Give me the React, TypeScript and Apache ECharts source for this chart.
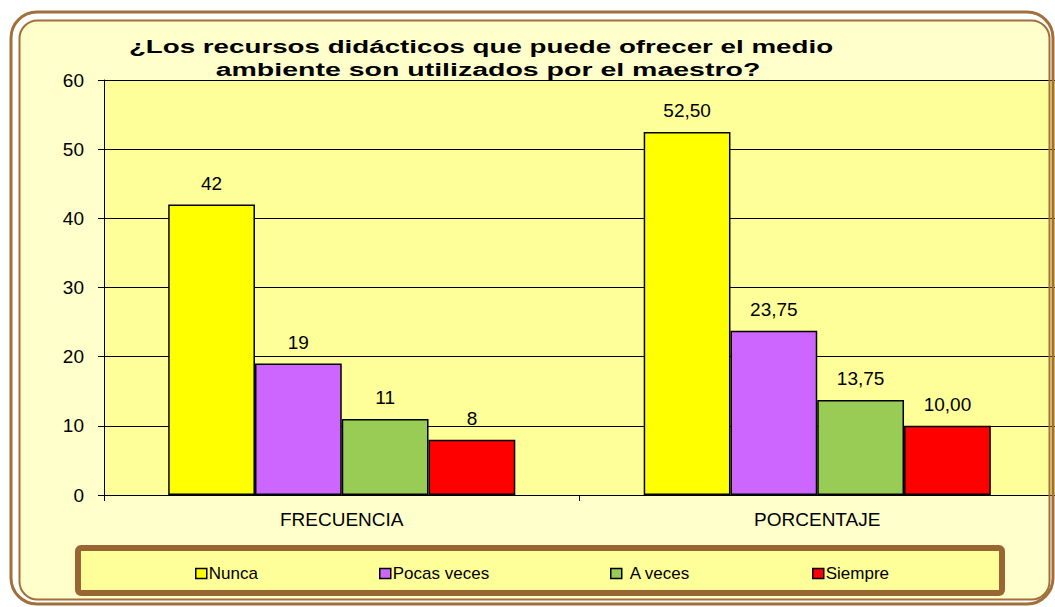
import React, { useEffect, useRef } from "react";
import * as echarts from "echarts";

const titleLines = [
  "¿Los recursos didácticos que puede ofrecer el medio",
  "ambiente son utilizados por el maestro?",
];
const categories = ["FRECUENCIA", "PORCENTAJE"];
const seriesNames = ["Nunca", "Pocas veces", "A veces", "Siempre"];
const nunca = [42, 52.5];
const pocasVeces = [19, 23.75];
const aVeces = [11, 13.75];
const siempre = [8, 10];
const yTicks = { min: 0, max: 60, interval: 10 };
const colors = ["#FFFF00", "#CC66FF", "#99CC55", "#FF0000"];
const legendLefts = [190, 374, 605, 807];
const legendPads = [-3, -3, 3, -3];

export default function App() {
  const ref = useRef<HTMLDivElement>(null);
  useEffect(() => {
    if (!ref.current) return;
    const chart = echarts.init(ref.current, undefined, { renderer: "svg" });
    const values = [nunca, pocasVeces, aVeces, siempre];
    const font = "Arial, 'Liberation Sans', sans-serif";
    chart.setOption({
      animation: false,
      textStyle: { fontFamily: font },
      grid: {
        left: 104,
        top: 80,
        right: 0,
        bottom: 112,
        show: true,
        backgroundColor: "#FFFF99",
        borderWidth: 0,
      },
      xAxis: {
        type: "category",
        data: categories,
        axisLine: { lineStyle: { color: "#000", width: 1 } },
        axisTick: { show: true, length: 6, lineStyle: { color: "#000" } },
        axisLabel: { color: "#000", fontSize: 19, margin: 15, fontFamily: font },
      },
      yAxis: {
        type: "value",
        min: yTicks.min,
        max: yTicks.max,
        interval: yTicks.interval,
        axisLine: { show: true, lineStyle: { color: "#000", width: 1 } },
        axisTick: { show: true, length: 6, lineStyle: { color: "#000" } },
        axisLabel: { color: "#000", fontSize: 19, margin: 20, fontFamily: font },
        splitLine: { show: true, lineStyle: { color: "#000", width: 1 } },
      },
      legend: seriesNames.map((n, i) => ({
        data: [n],
        left: legendLefts[i],
        top: 560,
        itemWidth: 11,
        itemHeight: 10,
        itemGap: 0,
        icon: "rect",
        textStyle: {
          color: "#000",
          fontSize: 17,
          fontFamily: font,
          padding: [0, 0, 0, legendPads[i]],
        },
        itemStyle: { borderColor: "#000", borderWidth: 1.5 },
      })),
      series: seriesNames.map((n, i) => ({
        type: "bar",
        name: n,
        data: values[i],
        barGap: "0%",
        barCategoryGap: "27%",
        itemStyle: { color: colors[i], borderColor: "#000", borderWidth: 1.5 },
        label: {
          show: true,
          position: "top",
          distance: 12,
          color: "#000",
          fontSize: 19,
          fontFamily: font,
          formatter: (p: any) =>
            p.dataIndex === 0 ? String(p.value) : Number(p.value).toFixed(2).replace(".", ","),
        },
      })),
      graphic: [
        {
          type: "rect",
          z: -10,
          shape: { x: 19, y: 20, width: 1031, height: 580, r: 18 },
          style: { fill: "#FFFFCC" },
        },
        {
          type: "rect",
          z: 100,
          silent: true,
          shape: { x: 11, y: 12, width: 1042, height: 592, r: 26 },
          style: { fill: "none", stroke: "#A26E3A", lineWidth: 3 },
        },
        {
          type: "rect",
          z: 100,
          silent: true,
          shape: { x: 19.5, y: 20.5, width: 1030, height: 579, r: 18 },
          style: { fill: "none", stroke: "#A26E3A", lineWidth: 2 },
        },
        {
          type: "rect",
          z: 1,
          shape: { x: 78, y: 548, width: 924, height: 45, r: 3 },
          style: { fill: "#FFFF99", stroke: "#996633", lineWidth: 6 },
        },
        {
          type: "text",
          z: 10,
          x: 481,
          y: 46,
          scaleX: 1.46,
          style: {
            text: titleLines[0],
            font: `bold 19px ${font}`,
            fill: "#000",
            textAlign: "center",
            textVerticalAlign: "middle",
          },
        },
        {
          type: "text",
          z: 10,
          x: 488,
          y: 69,
          scaleX: 1.5,
          style: {
            text: titleLines[1],
            font: `bold 19px ${font}`,
            fill: "#000",
            textAlign: "center",
            textVerticalAlign: "middle",
          },
        },
      ],
    });
    return () => chart.dispose();
  }, []);
  return (
    <div
      ref={ref}
      style={{ position: "absolute", left: 0, top: 0, width: 1055, height: 607, background: "#fff" }}
    />
  );
}
